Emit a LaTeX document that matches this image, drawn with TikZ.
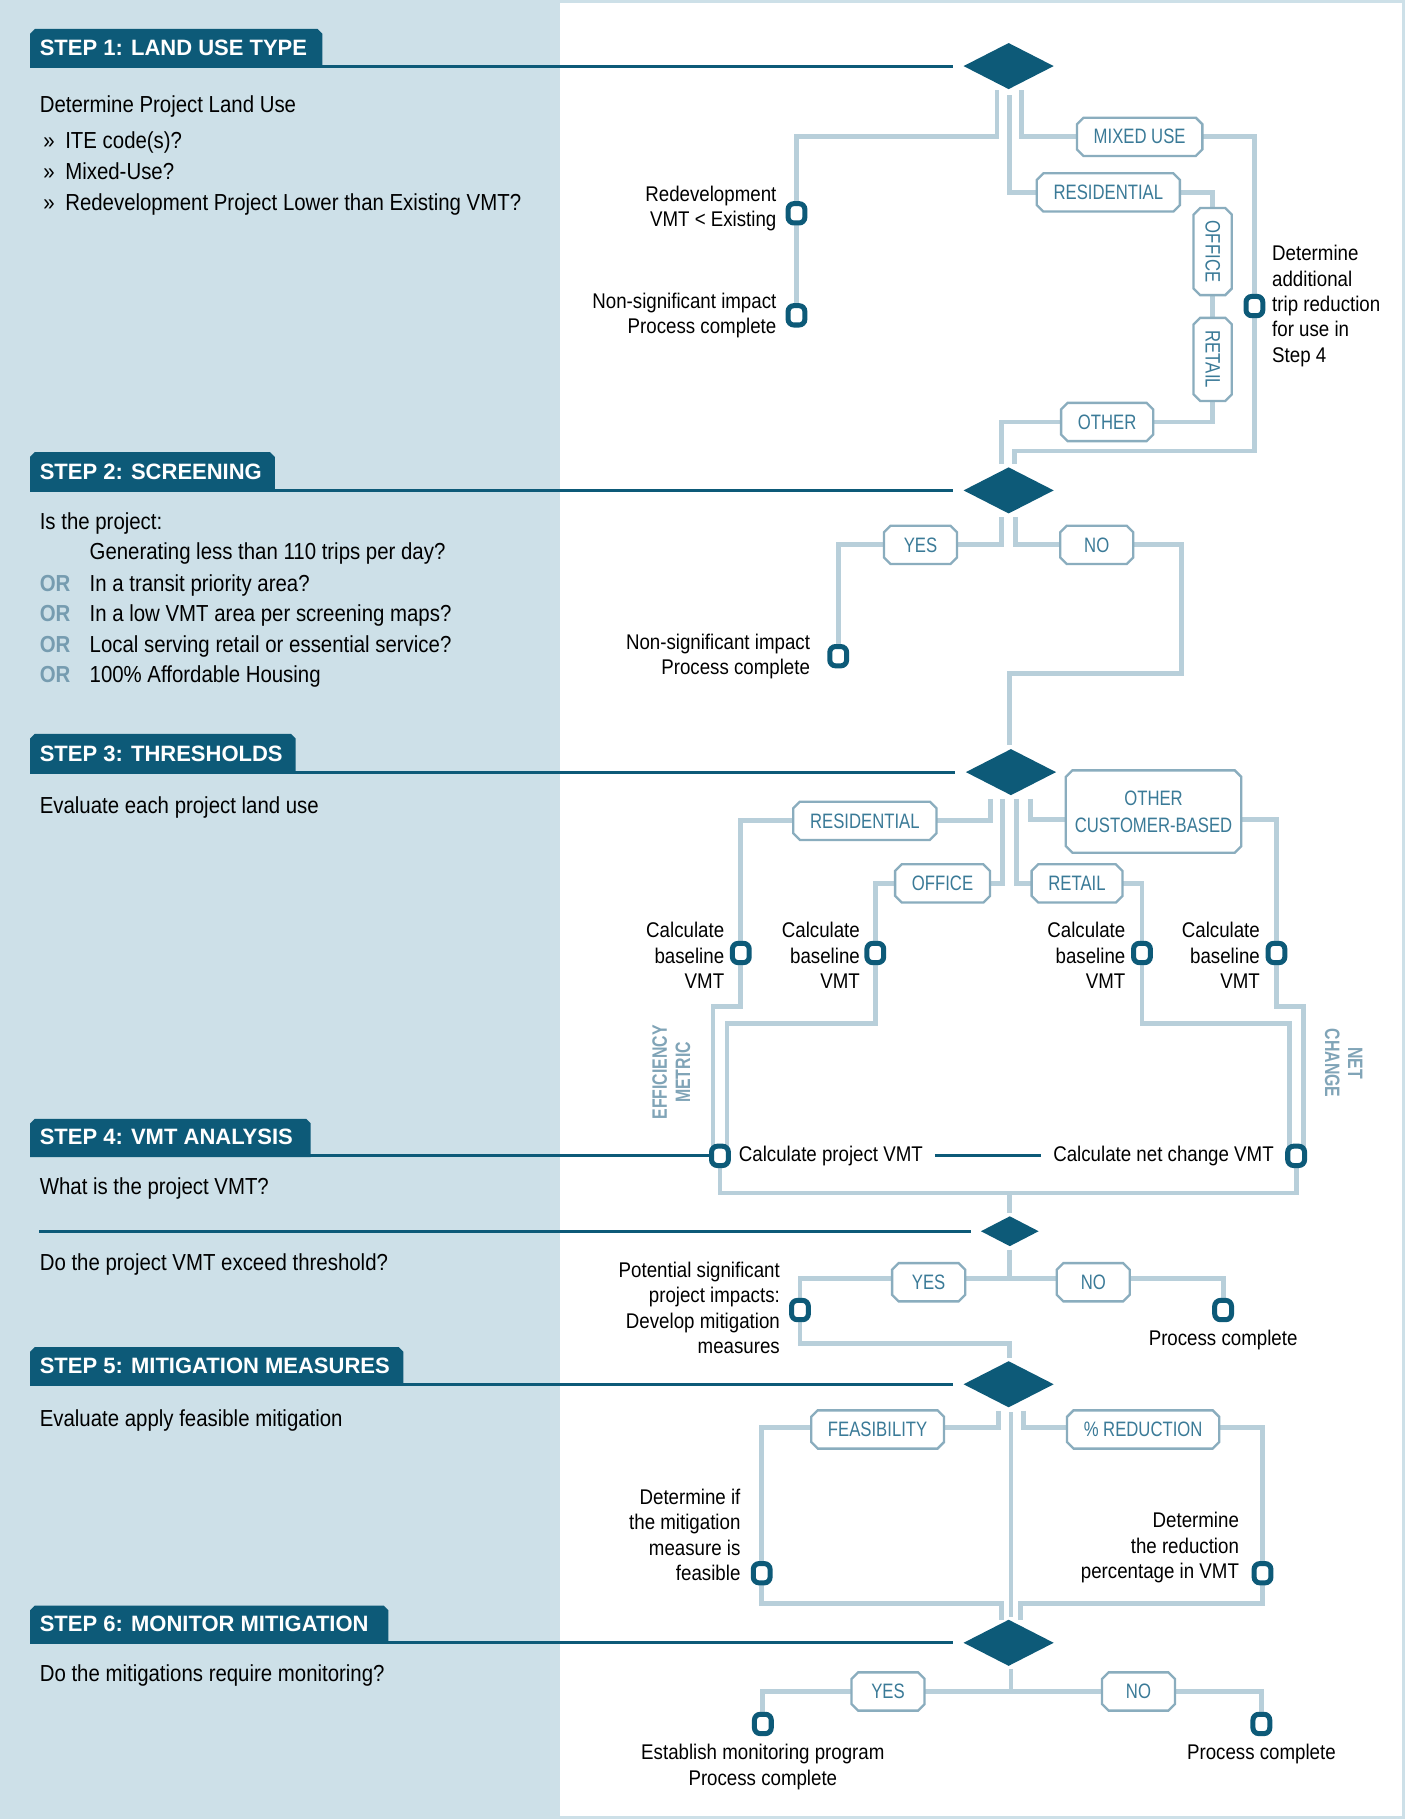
\documentclass[tikz,border=0pt]{standalone}
\usepackage{fontspec}
\setmainfont{Liberation Sans}[FakeStretch=0.88]
\newfontfamily\lblf{Liberation Sans}[FakeStretch=0.80]
\newfontfamily\hdrf{Liberation Sans}[FakeStretch=0.99]
\newfontfamily\sidef{Liberation Sans}[FakeStretch=0.76]
\usetikzlibrary{shapes.geometric,shapes.misc,backgrounds}
\definecolor{panel}{RGB}{205,224,232}
\definecolor{dteal}{RGB}{13,90,120}
\definecolor{connc}{RGB}{184,207,218}
\definecolor{boxb}{RGB}{138,173,190}
\definecolor{boxt}{RGB}{58,122,151}
\definecolor{ort}{RGB}{118,156,176}
\definecolor{sidet}{RGB}{128,164,183}
\tikzset{
 connector/.style={draw=connc, line width=2.5pt, line join=miter},
 hline/.style={draw=dteal, line width=1.6pt},
 lbl/.style={chamfered rectangle, chamfered rectangle xsep=1.7pt, chamfered rectangle ysep=1.7pt,
   draw=boxb, line width=1.2pt, fill=white, text=boxt, font=\lblf\fontsize{10.8}{13.8}\selectfont,
   inner xsep=7pt, inner ysep=0pt, minimum height=19.8pt, minimum width=37.8pt},
 term/.style={rectangle, rounded corners=3pt, draw=dteal, line width=2.6pt, fill=white,
   minimum width=8.7pt, minimum height=10pt, inner sep=0pt},
 dia/.style={diamond, fill=dteal, minimum width=46.8pt, minimum height=24pt, inner sep=0pt},
 sdia/.style={diamond, fill=dteal, minimum width=30pt, minimum height=15.6pt, inner sep=0pt},
 body/.style={font=\fontsize{12}{16}\selectfont, text=black, inner sep=0pt, anchor=base west},
 ortxt/.style={font=\bfseries\fontsize{12}{16}\selectfont, text=ort, inner sep=0pt, anchor=base west},
 ttext/.style={font=\fontsize{11}{13.1}\selectfont, inner sep=0pt, text=black},
 hdrtxt/.style={font=\hdrf\bfseries\fontsize{11.5}{14}\selectfont, text=white, inner sep=0pt, anchor=west},
 side/.style={font=\sidef\bfseries\fontsize{10.8}{12}\selectfont, text=sidet, align=center, inner sep=0pt},
}
\begin{document}
\begin{tikzpicture}[x=0.6pt,y=-0.6pt]
\useasboundingbox (0,0) rectangle (1212,1569);

% ---------- decision diamonds ----------
\node[dia] (d1) at (870,57) {};
\node[dia] (d2) at (870,423) {};
\node[dia] (d3) at (872,666) {};
\node[sdia] (d4) at (871,1062) {};
\node[dia] (d5) at (870,1194) {};
\node[dia] (d6) at (870,1417) {};

% ---------- terminals ----------
\node[term] (t1a) at (687,184) {};
\node[term] (t1b) at (687,272) {};
\node[term] (t1c) at (1082,264) {};
\node[term] (t2) at (723,566) {};
\node[term] (t3a) at (639,822) {};
\node[term] (t3b) at (755,822) {};
\node[term] (t3c) at (985,822) {};
\node[term] (t3d) at (1101,822) {};
\node[term] (t4a) at (621,997) {};
\node[term] (t4b) at (1118,997) {};
\node[term] (t4c) at (690,1130) {};
\node[term] (t4d) at (1055,1130) {};
\node[term] (t5a) at (657,1357) {};
\node[term] (t5b) at (1089,1357) {};
\node[term] (t6a) at (658,1487) {};
\node[term] (t6b) at (1088,1487) {};

% ---------- label boxes ----------
\node[lbl] (b1mix) at (983,118) {MIXED USE};
\node[lbl] (b1res) at (956,166) {RESIDENTIAL};
\node[lbl, rotate=-90, inner xsep=5pt] (b1off) at (1046,217) {OFFICE};
\node[lbl, rotate=-90, inner xsep=5pt] (b1ret) at (1046,310) {RETAIL};
\node[lbl] (b1oth) at (955,364) {OTHER};
\node[lbl] (b2yes) at (794,470) {YES};
\node[lbl] (b2no) at (946,470) {NO};
\node[lbl] (b3res) at (746,708) {RESIDENTIAL};
\node[lbl] (b3off) at (813,762) {OFFICE};
\node[lbl] (b3ret) at (929,762) {RETAIL};
\node[lbl, align=center, inner xsep=3pt, minimum height=42.6pt] (b3ocb) at (995,700) {OTHER\\CUSTOMER-BASED};
\node[lbl] (b4yes) at (801,1106) {YES};
\node[lbl] (b4no) at (943,1106) {NO};
\node[lbl] (b5fea) at (757,1233) {FEASIBILITY};
\node[lbl] (b5red) at (986,1233) {\% REDUCTION};
\node[lbl] (b6yes) at (766,1459) {YES};
\node[lbl] (b6no) at (982,1459) {NO};

% ---------- terminal texts ----------
\node[ttext, anchor=east, align=right] (x1a) at (670,180) {Redevelopment\\VMT < Existing};
\node[ttext, anchor=east, align=right] (x1b) at (670,272) {Non-significant impact\\Process complete};
\node[ttext, anchor=west, align=left] (x1c) at (1097,264) {Determine\\additional\\trip reduction\\for use in\\Step 4};
\node[ttext, anchor=east, align=right] (x2) at (699,566) {Non-significant impact\\Process complete};
\node[ttext, anchor=east, align=right] (x3a) at (625,824) {Calculate\\baseline\\VMT};
\node[ttext, anchor=east, align=right] (x3b) at (742,824) {Calculate\\baseline\\VMT};
\node[ttext, anchor=east, align=right] (x3c) at (971,824) {Calculate\\baseline\\VMT};
\node[ttext, anchor=east, align=right] (x3d) at (1087,824) {Calculate\\baseline\\VMT};
\node[ttext, anchor=west] (pvmt) at (637,997) {Calculate project VMT};
\node[ttext, anchor=east] (ncvmt) at (1099,997) {Calculate net change VMT};
\node[ttext, anchor=east, align=right] (x4c) at (673,1128) {Potential significant\\project impacts:\\Develop mitigation\\measures};
\node[ttext] (x4d) at (1055,1156) {Process complete};
\node[ttext, anchor=east, align=right] (x5a) at (639,1324) {Determine if\\the mitigation\\measure is\\feasible};
\node[ttext, anchor=east, align=right] (x5b) at (1069,1335) {Determine\\the reduction\\percentage in VMT};
\node[ttext, align=center] (x6a) at (658,1524) {Establish monitoring program\\Process complete};
\node[ttext] (x6b) at (1088,1513) {Process complete};

\node[side, rotate=90] (eff) at (579,925) {EFFICIENCY\\METRIC};
\node[side, rotate=-90] (net) at (1159,917) {NET\\CHANGE};

% ---------- left panel texts ----------
\node[hdrtxt] (s1) at (34,41) {STEP 1: LAND USE TYPE};
\node[hdrtxt] (s2) at (34,407) {STEP 2: SCREENING};
\node[hdrtxt] (s3) at (34,650) {STEP 3: THRESHOLDS};
\node[hdrtxt] (s4) at (34,981) {STEP 4: VMT ANALYSIS};
\node[hdrtxt] (s5) at (34,1178) {STEP 5: MITIGATION MEASURES};
\node[hdrtxt] (s6) at (34,1401) {STEP 6: MONITOR MITIGATION};

\node[body] (l1) at (34,97) {Determine Project Land Use};
\node[body] (l1a) at (37,128) {»};
\node[body] (l1b) at (56,128) {ITE code(s)?};
\node[body] (l1c) at (37,155) {»};
\node[body] (l1d) at (56,155) {Mixed-Use?};
\node[body] (l1e) at (37,182) {»};
\node[body] (l1f) at (56,182) {Redevelopment Project Lower than Existing VMT?};

\node[body] (l2) at (34,457) {Is the project:};
\node[body] (l2a) at (77,483) {Generating less than 110 trips per day?};
\node[ortxt] (o1) at (34,510) {OR};
\node[body] (l2b) at (77,510) {In a transit priority area?};
\node[ortxt] (o2) at (34,536) {OR};
\node[body] (l2c) at (77,536) {In a low VMT area per screening maps?};
\node[ortxt] (o3) at (34,563) {OR};
\node[body] (l2d) at (77,563) {Local serving retail or essential service?};
\node[ortxt] (o4) at (34,589) {OR};
\node[body] (l2e) at (77,589) {100\% Affordable Housing};

\node[body] (l3) at (34,702) {Evaluate each project land use};
\node[body] (l4) at (34,1030) {What is the project VMT?};
\node[body] (l4b) at (34,1096) {Do the project VMT exceed threshold?};
\node[body] (l5) at (34,1230) {Evaluate apply feasible mitigation};
\node[body] (l6) at (34,1450) {Do the mitigations require monitoring?};

% ---------- background: panels, tabs, connectors ----------
\begin{scope}[on background layer]
\fill[panel] (0,0) rectangle (1212,1569);
\fill[white] (483,3) rectangle (1209,1566);
% step tabs
\fill[dteal] (26,58) -- (26,29) -- (30,25) -- (274,25) -- (278,29) -- (278,58) -- cycle;
\fill[dteal] (26,424) -- (26,394) -- (30,390) -- (233,390) -- (237,394) -- (237,424) -- cycle;
\fill[dteal] (26,667) -- (26,637) -- (30,633) -- (251,633) -- (255,637) -- (255,667) -- cycle;
\fill[dteal] (26,998) -- (26,969) -- (30,965) -- (264,965) -- (268,969) -- (268,998) -- cycle;
\fill[dteal] (26,1195) -- (26,1166) -- (30,1162) -- (344,1162) -- (348,1166) -- (348,1195) -- cycle;
\fill[dteal] (26,1418) -- (26,1389) -- (30,1385) -- (331,1385) -- (335,1389) -- (335,1418) -- cycle;
% header rules
\draw[hline] (26,57) -- ([xshift=-5.4pt]d1.west);
\draw[hline] (26,423) -- ([xshift=-5.4pt]d2.west);
\draw[hline] (26,666) -- ([xshift=-5.4pt]d3.west);
\draw[hline] (26,997) -- (t4a.west);
\draw[hline] ([xshift=6pt]pvmt.east) -- ([xshift=-6pt]ncvmt.west);
\draw[hline] (34,1062) -- ([xshift=-5pt]d4.west);
\draw[hline] (26,1194) -- ([xshift=-5.4pt]d5.west);
\draw[hline] (26,1417) -- ([xshift=-5.4pt]d6.west);
% step 1
\draw[connector] (860,78) -- (860,118) -- (687,118) -- (t1b.center);
\draw[connector] (870.5,82) -- (870.5,166) -- (1046,166) -- (1046,364) -- (864,364) -- (864,400);
\draw[connector] (881,78) -- (881,118) -- (1082,118) -- (1082,389) -- (875,389) -- (875,400);
% step 2
\draw[connector] (864,446) -- (864,470) -- (723,470) -- (t2.center);
\draw[connector] (876,446) -- (876,470) -- (1019,470) -- (1019,581) -- (871,581) -- (871,643);
% step 3
\draw[connector] (854,689) -- (854,708) -- (639,708) -- (639,868) -- (615,868) -- (615,995);
\draw[connector] (865,689) -- (865,762) -- (755,762) -- (755,883) -- (627,883) -- (627,995);
\draw[connector] (877,689) -- (877,762) -- (985,762) -- (985,883) -- (1112,883) -- (1112,995);
\draw[connector] (889,689) -- (889,707) -- (1101,707) -- (1101,868) -- (1124,868) -- (1124,995);
% step 4
\draw[connector] (t4a.center) -- (621,1029) -- (1118,1029) -- (t4b.center);
\draw[connector] (871,1029) -- (871,1046);
\draw[connector] (871,1078) -- (871,1103);
\draw[connector] (t4d.center) -- (1055,1103) -- (690,1103) -- (690,1159) -- (871,1159) -- (871,1171);
% step 5
\draw[connector] (861,1217) -- (861,1231) -- (657,1231) -- (657,1383) -- (864,1383) -- (864,1397);
\draw[connector] (872,1218) -- (872,1395);
\draw[connector] (883,1217) -- (883,1231) -- (1089,1231) -- (1089,1383) -- (880,1383) -- (880,1397);
% step 6
\draw[connector] (872,1440) -- (872,1459);
\draw[connector] (t6a.center) -- (658,1459) -- (1088,1459) -- (t6b.center);
\end{scope}
\end{tikzpicture}
\end{document}
